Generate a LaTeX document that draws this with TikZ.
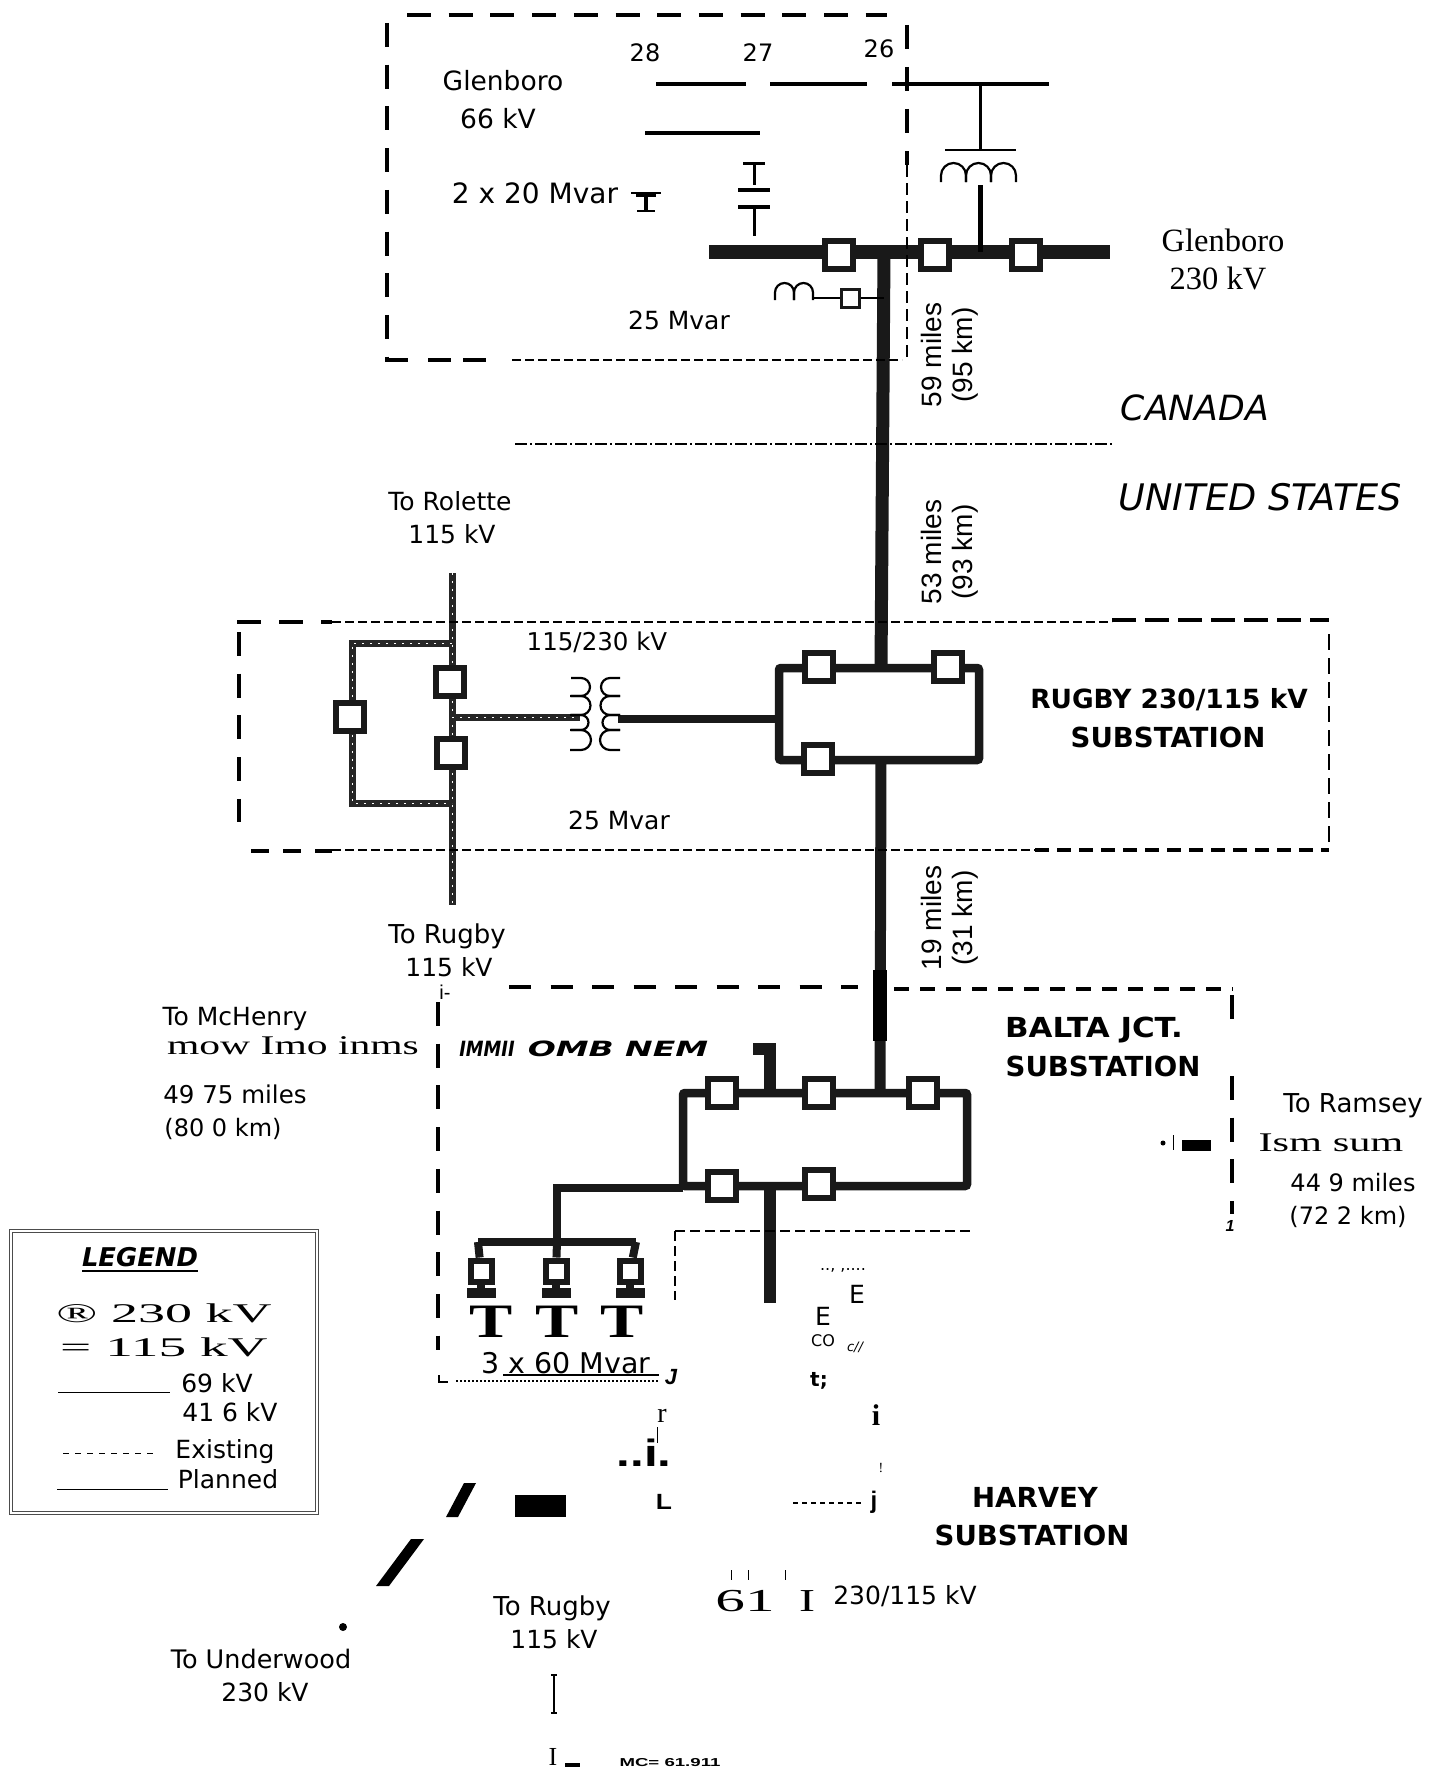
\documentclass[tikz,border=0pt]{standalone}
\usepackage{fontspec}
\setmainfont{DejaVu Sans}
\newfontfamily\timesface{Liberation Serif}
\newfontfamily\arialface{Liberation Sans}
\usetikzlibrary{positioning}
\newcommand{\stretched}[2]{\scalebox{#1}[1]{#2}}
\tikzset{
  lbl/.style={
    inner sep=0pt, text height=18pt, text depth=5pt, yshift=-3pt,
    font=\fontsize{25}{30}\selectfont,
  },
  side/.style={
    inner sep=0pt, rotate=90,
    font=\arialface\fontsize{28}{30}\selectfont,
  },
  heading/.style={
    inner sep=0pt, yshift=-1pt,
    font=\fontsize{27.6}{30}\bfseries\selectfont,
  },
  wide/.style={
    inner sep=0pt,
    font=\timesface\fontsize{27}{30}\selectfont,
  },
  brk/.style={
    draw=black!90, line width=6pt, fill=white, inner sep=0pt,
    minimum width=28pt, minimum height=28pt,
  },
  thin brk/.style={
    brk, line width=3pt, minimum width=18pt, minimum height=18pt,
  },
  bus/.style={line width=8.5pt, draw=black!90},
  worn/.style={
    line width=7pt, draw=black!85,
    postaction={draw=white, line width=.8pt, dash pattern=on 2pt off 6pt},
  },
  heavy/.style={line width=14pt, draw=black!90},
  bar/.style={line width=3.5pt},
  coil/.style={line width=2.2pt},
  boxdash/.style={line width=3.2pt, dash pattern=on 24pt off 17.7pt},
  finedash/.style={line width=2.6pt, dash pattern=on 9pt off 4pt},
  plate/.style={fill=black!90, inner sep=0pt, minimum width=29pt, minimum height=10pt},
}
\pgfdeclarelayer{back}
\pgfsetlayers{back, main}

\begin{document}
\begin{tikzpicture}[x=1pt, y=-1pt]
\useasboundingbox (0,0) rectangle (1433,1774);

\coordinate (b28-w) at (656,84);
\coordinate (b28-e) at (746,84);
\coordinate (b27-w) at (770,84);
\coordinate (b27-e) at (867,84);
\coordinate (b26-w) at (892,84);
\coordinate (b26-e) at (1049,84);
\coordinate (b66-w) at (645,133);
\coordinate (b66-e) at (760,133);
\coordinate (rct-top) at (980,84);
\coordinate (rct-bar) at (980,150);
\coordinate (rct-coil) at (980,185);
\coordinate (gb-w) at (709,252);
\coordinate (gb-e) at (1110,252);
\coordinate (gb-rct) at (980,252);
\coordinate (gb-t) at (884,252);
\node[brk] (gb-a) at (839,255) {};
\node[brk] (gb-b) at (935,255) {};
\node[brk] (gb-c) at (1026,255) {};
\node[thin brk] (gb-s) at (850,298) {};
\coordinate (gb-tap) at (884,298);
\coordinate (gb-shunt) at (813,298);
\begin{pgfonlayer}{back}
  \draw[heavy] (gb-w) -- (gb-e);
\end{pgfonlayer}
\foreach \a/\b in {b28-w/b28-e, b27-w/b27-e, b26-w/b26-e, b66-w/b66-e}
  \draw[bar] (\a) -- (\b);
\draw[line width=3pt] (rct-top) -- (rct-bar);
\draw[line width=1.6pt] (945,150) -- (1016,150);
\foreach \x in {941,966,991}
  \draw[coil] (\x,182) -- (\x,175.5) arc[start angle=180, end angle=0, radius=12.5pt] -- ++(0,6.5);
\draw[line width=5pt] (rct-coil) -- (gb-rct);
\draw[line width=3pt] (743,163) -- (765,163) (754,163) -- (754,185);
\draw[line width=3.5pt] (738,190) -- (770,190);
\draw[line width=3.5pt] (738,207) -- (770,207);
\draw[line width=3pt] (754,207) -- (754,236);
\draw[line width=1.4pt] (631,193) -- (661,193);
\draw[line width=3.4pt] (636,195) -- (656,195) (646,195) -- (646,211);
\draw[line width=1.6pt] (637,211) -- (655,211);
\foreach \x in {775,794}
  \draw[coil] (\x,300) -- (\x,292.5) arc[start angle=180, end angle=0, radius=9.5pt] -- ++(0,7.5);
\draw[line width=2.2pt] (gb-shunt) -- (gb-s);
\draw[line width=2.5pt] (gb-s) -- (gb-tap);

\coordinate (rr-nw) at (779,668);
\coordinate (rr-ne) at (979,668);
\coordinate (rr-se) at (979,760);
\coordinate (rr-sw) at (779,760);
\coordinate (rr-t) at (881,668);
\coordinate (rr-b) at (881,760);
\coordinate (rr-l) at (779,719);
\node[brk] (rr-a) at (819,667) {};
\node[brk] (rr-b1) at (948,667) {};
\node[brk] (rr-c) at (818,759) {};
\begin{pgfonlayer}{back}
  \draw[bus, rounded corners=2pt] (rr-nw) -- (rr-ne) -- (rr-se) -- (rr-sw) -- cycle;
  \draw[heavy, line width=13pt] (gb-t) -- (rr-t);
\end{pgfonlayer}

\coordinate (v115-t) at (452,573);
\coordinate (v115-b) at (452,905);
\coordinate (lp-nr) at (452,643);
\coordinate (lp-nl) at (352,643);
\coordinate (lp-sl) at (352,803);
\coordinate (lp-sr) at (452,803);
\coordinate (xf-w) at (452,717);
\coordinate (xf-l) at (580,717);
\coordinate (xf-r) at (618,719);
\node[brk] (lp-a) at (350,717) {};
\node[brk] (lp-b) at (450,682) {};
\node[brk] (lp-c) at (451,753) {};
\begin{pgfonlayer}{back}
  \draw[worn] (v115-t) -- (v115-b);
  \draw[worn] (lp-nr) -- (lp-nl) -- (lp-sl) -- (lp-sr);
  \draw[worn] (xf-w) -- (xf-l);
  \draw[bus] (xf-r) -- (rr-l);
\end{pgfonlayer}
\foreach \y/\r in {678/9, 696/9.5, 715/7.5, 730/10} {
  \draw[coil] (571,\y) -- (581,\y) arc[start angle=90, end angle=-90, radius=\r pt] -- ++(-11,0);
  \draw[coil] (620,\y) -- (610,\y) arc[start angle=90, end angle=270, radius=\r pt] -- ++(10,0);
}

\coordinate (bj-nw) at (683,1093);
\coordinate (bj-ne) at (967,1093);
\coordinate (bj-se) at (967,1186);
\coordinate (bj-sw) at (683,1186);
\coordinate (bj-t) at (880,1093);
\coordinate (bj-up) at (770,1093);
\coordinate (bj-upe) at (770,1043);
\coordinate (bj-dn) at (770,1186);
\coordinate (bj-dne) at (770,1303);
\coordinate (bk-e) at (683,1188);
\coordinate (bk-c) at (557,1188);
\coordinate (bk-m) at (557,1242);
\coordinate (bk-l) at (478,1242);
\coordinate (bk-r) at (636,1242);
\node[brk] (bj-a) at (722,1093) {};
\node[brk] (bj-b) at (819,1093) {};
\node[brk] (bj-c) at (923,1093) {};
\node[brk] (bj-d) at (722,1186) {};
\node[brk] (bj-e) at (819,1184) {};
\foreach \n/\x/\tx in {1/481/491, 2/556/557, 3/630/622} {
  \node[brk, minimum width=21pt, minimum height=21pt] (cap-\n) at (\x,1271) {};
  \node[plate] (pl-\n) at (\x,1293) {};
  \node[inner sep=0pt, font=\timesface\fontsize{48}{48}\bfseries\selectfont] (t-\n) at (\tx,1322) {\stretched{1.35}{T}};
}
\begin{pgfonlayer}{back}
  \draw[bus, rounded corners=2pt] (bj-nw) -- (bj-ne) -- (bj-se) -- (bj-sw) -- cycle;
  \draw[heavy, line width=11pt] (rr-b) -- (bj-t);
  \draw[heavy, draw=black] (880,970) -- (880,1041);
  \draw[heavy, line width=12pt] (bj-up) -- (bj-upe);
  \draw[heavy, line width=12pt] (bj-dn) -- (bj-dne);
  \draw[bus] (bk-e) -- (bk-c) -- (bk-m);
  \draw[bus] (bk-l) -- (bk-r);
  \draw[bus, line width=8pt] (bk-l) -- (cap-1) (bk-m) -- (cap-2) (bk-r) -- (cap-3);
  \foreach \n in {1,2,3}
    \draw[bus] (cap-\n) -- (pl-\n);
\end{pgfonlayer}
\fill[black!90] (753,1043) rectangle (770,1055);

\draw[boxdash] (407,15) -- (887,15);
\draw[boxdash] (387,23) -- (387,360) -- (410,360);
\draw[boxdash, dash pattern=on 23pt off 12pt] (428,360) -- (495,360);
\draw[finedash] (512,360) -- (902,360);
\draw[boxdash, dash pattern=on 24pt off 18pt] (907,25) -- (907,165);
\draw[line width=2.4pt, dash pattern=on 12pt off 6pt] (907,165) -- (907,360);

\draw[boxdash, dash pattern=on 24pt off 18pt] (237,622) -- (332,622);
\draw[finedash] (332,622) -- (1112,622);
\draw[boxdash, dash pattern=on 24pt off 9pt] (1112,620) -- (1329,620);
\draw[boxdash] (239,632) -- (239,822);
\draw[boxdash, dash pattern=on 18pt off 14pt] (251,851) -- (332,851);
\draw[finedash] (332,850) -- (1035,850);
\draw[boxdash, dash pattern=on 14pt off 8pt] (1035,850) -- (1329,850);
\draw[line width=2.8pt, dash pattern=on 16pt off 8pt] (1329,634) -- (1329,843);

\draw[boxdash, dash pattern=on 22pt off 19.5pt] (509,987) -- (858,987);
\draw[boxdash, dash pattern=on 15pt off 11pt] (894,989) -- (1233,989);
\draw[boxdash] (438,1002) -- (438,1350);
\draw[boxdash] (1232,995) -- (1232,1035);
\draw[boxdash] (1232,1076) -- (1232,1214);
\draw[line width=2.6pt, dash pattern=on 10pt off 5pt] (675,1231) -- (971,1231);
\draw[line width=2.6pt, dash pattern=on 10pt off 5pt] (675,1231) -- (675,1300);
\draw[line width=1.4pt, dash pattern=on 2pt off 2pt] (456,1381) -- (659,1381);
\draw[line width=2.4pt] (503,1375) -- (659,1375);
\draw[line width=2.4pt] (439,1375) -- (439,1382) -- (448,1382);
\draw[line width=1.8pt, dash pattern=on 5pt off 4pt] (793,1503) -- (864,1503);
\draw[line width=2pt, dash pattern=on 12pt off 3pt on 2pt off 3pt] (515,444) -- (1112,444);

\fill (515,1495) rectangle (566,1517);
\fill (446,1517) -- (458,1517) -- (476,1483) -- (464,1483) -- cycle;
\fill (376,1586) -- (389,1586) -- (424,1539) -- (411,1539) -- cycle;
\fill (343,1627) circle[radius=4pt];
\fill (1163,1143) circle[radius=2.5pt];
\draw[line width=.8pt] (1173,1135) -- (1173,1150);
\fill (1182,1140) rectangle (1211,1151);
\foreach \x in {731,748,785}
  \draw[line width=1pt] (\x,1570) -- (\x,1580);
\draw[line width=1pt] (657,1427) -- (657,1443);
\draw[line width=1.6pt] (554,1675) -- (554,1713) (551,1675) -- (557,1675) (551,1713) -- (557,1713);
\fill (565,1763) rectangle (580,1767);

\node[lbl] (n28) at (645,52) {\fontsize{24}{24}\selectfont 28};
\node[lbl] (n27) at (758,52) {\fontsize{24}{24}\selectfont 27};
\node[lbl] (n26) at (879,48) {\fontsize{24}{24}\selectfont 26};
\node[lbl, font=\fontsize{26.5}{30}\selectfont] (gl66) at (503,81) {Glenboro};
\node[lbl, font=\fontsize{26.5}{30}\selectfont] (gl66b) at (498,119) {66 kV};
\node[lbl, font=\fontsize{28}{30}\selectfont] (gl2x) at (535,194) {2 x 20 Mvar};
\node[lbl] (gl25) at (679,320) {25 Mvar};
\node[inner sep=0pt, font=\timesface\fontsize{32.5}{34}\selectfont] (gl230) at (1223,240) {Glenboro};
\node[inner sep=0pt, font=\timesface\fontsize{32.5}{34}\selectfont] (gl230b) at (1218,278) {230 kV};
\node[side] (m59) at (931,355) {59 miles};
\node[side] (k95) at (965,355) {(95 km)};
\node[side] (m53) at (931,552) {53 miles};
\node[side] (k93) at (965,552) {(93 km)};
\node[side] (m19) at (931,918) {19 miles};
\node[side] (k31) at (965,918) {(31 km)};
\node[inner sep=0pt, font=\fontsize{34.7}{36}\itshape\selectfont] (ca) at (1195,408) {CANADA};
\node[inner sep=0pt, font=\fontsize{36.6}{38}\itshape\selectfont] (us) at (1260,497) {UNITED STATES};
\node[lbl] (rol) at (450,501) {To Rolette};
\node[lbl, below=7pt of rol, xshift=2pt] (rolb) {115 kV};
\node[lbl, font=\fontsize{24.5}{30}\selectfont] (xfl) at (597,641) {115/230 kV};
\node[lbl] (rug25) at (619,820) {25 Mvar};
\node[heading, font=\fontsize{26.4}{30}\bfseries\selectfont] (rugn) at (1169,699) {RUGBY 230/115 kV};
\node[heading] (rugs) at (1168,736) {SUBSTATION};
\node[lbl, font=\fontsize{26}{30}\selectfont] (toru) at (447,934) {To Rugby};
\node[lbl, below=7pt of toru, xshift=2pt] (torub) {115 kV};
\node[lbl, font=\arialface\fontsize{20}{20}\selectfont] (corner) at (445,990) {i-};
\node[lbl] (mch) at (235,1016) {To McHenry};
\node[wide] (mow) at (293,1046) {\stretched{1.54}{mow Imo inms}};
\node[lbl, font=\fontsize{24.5}{30}\selectfont] (mil49) at (235,1094) {49 75 miles};
\node[lbl, font=\fontsize{24}{30}\selectfont] (km80) at (223,1127) {(80 0 km)};
\node[heading] (bal) at (1094,1029) {\stretched{1.12}{BALTA JCT.}};
\node[heading] (bals) at (1103,1065) {SUBSTATION};
\node[inner sep=0pt, font=\fontsize{21}{22}\bfseries\itshape\selectfont] (imm) at (487,1049) {\stretched{.85}{IMMII}};
\node[inner sep=0pt, font=\fontsize{21}{22}\bfseries\itshape\selectfont] (omb) at (618,1049) {\stretched{1.57}{OMB NEM}};
\node[lbl, font=\fontsize{26}{30}\selectfont] (ram) at (1353,1103) {To Ramsey};
\node[wide] (ism) at (1331,1143) {\stretched{1.57}{Ism sum}};
\node[lbl, font=\fontsize{24}{30}\selectfont] (mil44) at (1353,1182) {44 9 miles};
\node[lbl, font=\fontsize{24}{30}\selectfont] (km72) at (1348,1215) {(72 2 km)};
\node[inner sep=0pt, font=\arialface\fontsize{16}{16}\bfseries\itshape\selectfont] (one) at (1230,1226) {1};
\node[lbl, font=\fontsize{28.5}{30}\selectfont] (cap3) at (566,1364) {3 x 60 Mvar};
\node[inner sep=0pt, font=\arialface\fontsize{22}{22}\bfseries\itshape\selectfont] (jj) at (671,1377) {J};
\node[inner sep=0pt, font=\fontsize{16}{16}\selectfont] (dots) at (843,1270) {.., ,....};
\node[lbl] (e1) at (857,1294) {E};
\node[lbl] (e2) at (823,1316) {E};
\node[inner sep=0pt, font=\fontsize{16}{16}\selectfont] (co) at (823,1341) {CO};
\node[inner sep=0pt, font=\fontsize{13}{13}\itshape\selectfont] (cc) at (855,1347) {c//};
\node[inner sep=0pt, font=\fontsize{20}{20}\bfseries\selectfont] (tt) at (819,1381) {t;};
\node[inner sep=0pt, font=\timesface\fontsize{30}{30}\bfseries\selectfont] (ii) at (876,1415) {i};
\node[inner sep=0pt, font=\timesface\fontsize{28}{28}\selectfont] (rr) at (662,1416) {r};
\node[inner sep=0pt, font=\arialface\fontsize{38}{38}\bfseries\selectfont] (dd) at (644,1453) {\stretched{1.3}{..i.}};
\node[inner sep=0pt, font=\timesface\fontsize{14}{14}\selectfont] (ex) at (881,1468) {!};
\node[inner sep=0pt, font=\arialface\fontsize{22}{22}\bfseries\selectfont] (ll) at (664,1502) {\stretched{1.2}{L}};
\node[inner sep=0pt, font=\arialface\fontsize{24}{24}\bfseries\selectfont] (jl) at (874,1502) {j};
\node[heading] (hrv) at (1035,1496) {HARVEY};
\node[heading] (hrvs) at (1032,1534) {SUBSTATION};
\node[inner sep=0pt, font=\timesface\fontsize{32}{32}\selectfont] (six) at (745,1601) {\stretched{1.85}{61}};
\node[inner sep=0pt, font=\timesface\fontsize{32}{32}\selectfont] (aye) at (807,1601) {\stretched{1.5}{I}};
\node[lbl] (v230) at (905,1595) {230/115 kV};
\node[lbl, font=\fontsize{26}{30}\selectfont] (tor2) at (552,1606) {To Rugby};
\node[lbl, below=7pt of tor2, xshift=2pt] (tor2b) {115 kV};
\node[lbl, font=\fontsize{25.5}{30}\selectfont] (und) at (261,1659) {To Underwood};
\node[lbl] (undb) at (265,1692) {230 kV};
\node[inner sep=0pt, font=\timesface\fontsize{26}{26}\selectfont] (low) at (553,1757) {I};
\node[inner sep=0pt, font=\arialface\fontsize{11.5}{12}\bfseries\selectfont] (mc) at (670,1763) {\stretched{1.62}{MC= 61.911}};

\draw[line width=1.2pt, draw=black!70, double=white, double distance=1.2pt] (11,1231) rectangle (317,1513);
\node[inner sep=0pt, font=\fontsize{25.8}{26}\bfseries\itshape\selectfont] (leg) at (140,1257) {LEGEND};
\draw[line width=2.4pt] (82,1271) -- (198,1271);
\node[wide] (l230) at (164,1313) {\stretched{2}{\textregistered{} 230 kV}};
\node[wide] (l115) at (164,1347) {\stretched{2.05}{= 115 kV}};
\draw[line width=1pt] (58,1392) -- (170,1392);
\node[lbl] (l69) at (217,1383) {69 kV};
\node[lbl] (l41) at (230,1412) {41 6 kV};
\draw[line width=1pt, dash pattern=on 6pt off 6pt] (63,1453) -- (157,1453);
\node[lbl] (lex) at (225,1449) {Existing};
\draw[line width=1pt] (57,1489) -- (168,1489);
\node[lbl] (lpl) at (228,1479) {Planned};
\end{tikzpicture}
\end{document}
